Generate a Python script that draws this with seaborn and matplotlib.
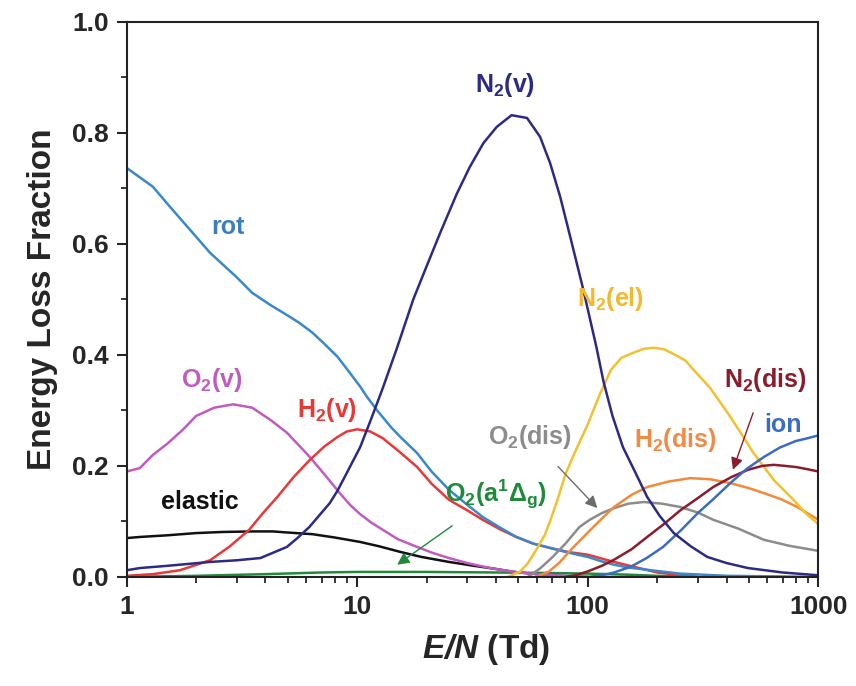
import matplotlib
matplotlib.use("Agg")
import matplotlib.pyplot as plt
import seaborn as sns
import pandas as pd

# values (E/N in Td, energy loss fraction)
rot_x = [1, 1.14, 1.3, 1.54, 2, 2.3, 3, 3.5, 4.2, 4.95, 5.6, 6.4, 7.2, 8.2, 9.2, 10.3, 11, 12.2, 14, 15.4,
         16.5, 18.2, 21, 25, 30, 35, 42, 49, 58, 69, 82, 100, 115, 130, 150, 180, 250, 400, 1000]
rot_y = [0.737, 0.72, 0.703, 0.667, 0.613, 0.584, 0.54, 0.512, 0.49, 0.472, 0.458, 0.44, 0.42, 0.397, 0.37,
         0.343, 0.325, 0.30, 0.27, 0.252, 0.24, 0.223, 0.19, 0.157, 0.13, 0.108, 0.088, 0.072, 0.06, 0.052,
         0.044, 0.036, 0.028, 0.022, 0.017, 0.013, 0.006, 0.002, 0.0]

o2v_x = [1, 1.14, 1.3, 1.5, 1.75, 2, 2.4, 2.9, 3.5, 4.2, 4.95, 5.5, 6.2, 7.2, 8.4, 9.3, 10.3, 11.5, 12.9,
         15, 18.2, 21, 25, 30, 37.7, 50, 70, 100]
o2v_y = [0.19, 0.196, 0.22, 0.24, 0.265, 0.29, 0.305, 0.311, 0.305, 0.283, 0.26, 0.24, 0.217, 0.185, 0.151,
         0.13, 0.113, 0.098, 0.085, 0.068, 0.054, 0.044, 0.034, 0.025, 0.016, 0.008, 0.003, 0.0]

h2v_x = [1, 1.3, 1.7, 2.3, 2.8, 3.4, 3.9, 4.5, 5.3, 6.2, 7.2, 8.2, 9, 10, 11.4, 12.9, 15, 18.2, 21, 25, 30,
         35, 42, 49, 58, 69, 82, 100, 130, 200, 300]
h2v_y = [0.002, 0.005, 0.012, 0.03, 0.055, 0.085, 0.115, 0.144, 0.18, 0.21, 0.235, 0.252, 0.262, 0.266, 0.262,
         0.25, 0.228, 0.198, 0.168, 0.139, 0.12, 0.103, 0.085, 0.072, 0.06, 0.052, 0.045, 0.04, 0.027, 0.008, 0.0]

elastic_x = [1, 1.14, 1.5, 2, 2.6, 3.53, 4.3, 5, 6.4, 8, 10.3, 12.5, 15.4, 19, 25, 31, 39, 48, 60, 75, 100]
elastic_y = [0.07, 0.072, 0.075, 0.079, 0.081, 0.082, 0.082, 0.08, 0.077, 0.071, 0.063, 0.055, 0.045, 0.036,
             0.027, 0.021, 0.015, 0.009, 0.005, 0.002, 0.0]

n2v_x = [1, 1.14, 1.5, 2.3, 3, 3.8, 4.95, 5.5, 6.2, 7.6, 8.2, 9, 10.3, 11.5, 12.9, 14.8, 17.5, 20, 22.9, 27,
         30.8, 35.3, 40.3, 46.7, 54.5, 62.1, 68.6, 75.9, 83.9, 95.7, 109, 117, 128, 142, 160, 181, 205, 236,
         280, 330, 400, 495, 700, 1000]
n2v_y = [0.012, 0.016, 0.02, 0.027, 0.03, 0.034, 0.054, 0.07, 0.09, 0.133, 0.155, 0.187, 0.234, 0.285, 0.34,
         0.41, 0.50, 0.56, 0.62, 0.69, 0.739, 0.782, 0.811, 0.832, 0.827, 0.793, 0.746, 0.685, 0.613,
         0.517, 0.414, 0.352, 0.29, 0.234, 0.19, 0.144, 0.11, 0.079, 0.055, 0.036, 0.025, 0.016, 0.008, 0.003]

n2el_x = [45, 51, 55, 60, 65, 69, 74, 80, 88, 100, 113, 126, 140, 160, 175, 193, 215, 240, 265, 288, 340,
          405, 460, 524, 640, 780, 880, 1000]
n2el_y = [0.0, 0.01, 0.025, 0.05, 0.075, 0.103, 0.14, 0.185, 0.225, 0.275, 0.33, 0.373, 0.395, 0.405, 0.411,
          0.413, 0.41, 0.40, 0.39, 0.373, 0.34, 0.295, 0.26, 0.223, 0.175, 0.139, 0.115, 0.095]

h2dis_x = [60, 68, 75, 85, 100, 115, 130, 155, 181, 225, 278, 340, 415, 500, 580, 690, 810, 1000]
h2dis_y = [0.0, 0.01, 0.025, 0.05, 0.08, 0.105, 0.126, 0.148, 0.162, 0.172, 0.178, 0.176, 0.169, 0.16, 0.151,
           0.14, 0.126, 0.103]

o2dis_x = [55, 62, 70, 80, 92, 102, 115, 130, 150, 175, 210, 252, 300, 350, 450, 580, 750, 1000]
o2dis_y = [0.0, 0.015, 0.035, 0.06, 0.09, 0.103, 0.115, 0.124, 0.132, 0.135, 0.132, 0.126, 0.116, 0.103,
           0.087, 0.067, 0.056, 0.047]

n2dis_x = [80, 90, 100, 115, 130, 155, 181, 215, 252, 300, 350, 420, 495, 570, 640, 720, 800, 900, 1000]
n2dis_y = [0.0, 0.004, 0.01, 0.02, 0.031, 0.05, 0.072, 0.096, 0.12, 0.142, 0.162, 0.18, 0.193, 0.2, 0.202,
           0.2, 0.198, 0.194, 0.19]

ion_x = [100, 115, 130, 153, 180, 212, 255, 300, 350, 415, 490, 580, 680, 800, 900, 1000]
ion_y = [0.0, 0.003, 0.008, 0.018, 0.034, 0.054, 0.085, 0.115, 0.14, 0.169, 0.195, 0.216, 0.233, 0.245,
         0.25, 0.255]

o2a_x = [1, 2, 4, 7, 10, 20, 40, 70, 100, 150, 200, 300]
o2a_y = [0.0, 0.002, 0.005, 0.008, 0.009, 0.009, 0.008, 0.007, 0.006, 0.004, 0.002, 0.0]

series = [
    ("elastic", elastic_x, elastic_y, "#111111"),
    ("O2(a)", o2a_x, o2a_y, "#1f8a3c"),
    ("O2(v)", o2v_x, o2v_y, "#c05cc0"),
    ("H2(v)", h2v_x, h2v_y, "#e83838"),
    ("rot", rot_x, rot_y, "#3a88cc"),
    ("O2(dis)", o2dis_x, o2dis_y, "#8c8c8c"),
    ("H2(dis)", h2dis_x, h2dis_y, "#f28a3c"),
    ("N2(el)", n2el_x, n2el_y, "#f2c12e"),
    ("N2(dis)", n2dis_x, n2dis_y, "#8b1c2c"),
    ("ion", ion_x, ion_y, "#3c6cc0"),
    ("N2(v)", n2v_x, n2v_y, "#2b2b85"),
]

sns.set_style("ticks")
plt.rcParams["font.family"] = ["Liberation Sans", "DejaVu Sans"]
plt.rcParams["font.weight"] = "bold"
plt.rcParams["mathtext.fontset"] = "custom"
plt.rcParams["mathtext.rm"] = "Liberation Sans:bold"
plt.rcParams["mathtext.bf"] = "Liberation Sans:bold"
plt.rcParams["mathtext.it"] = "Liberation Sans:italic:bold"
plt.rcParams["mathtext.bfit"] = "Liberation Sans:italic:bold"

fig = plt.figure(figsize=(8.56, 6.86), dpi=100)
ax = fig.add_axes([0.148, 0.159, 0.808, 0.809])

for name, xs, ys, col in series:
    df = pd.DataFrame({"x": xs, "y": ys})
    sns.lineplot(data=df, x="x", y="y", ax=ax, color=col, linewidth=1.8)

ax.set_xscale("log")
ax.set_xlim(1, 1000)
ax.set_ylim(0, 1.0)
ax.set_yticks([0.0, 0.2, 0.4, 0.6, 0.8, 1.0])
ax.set_yticks([0.1, 0.3, 0.5, 0.7, 0.9], minor=True)
ax.set_xticks([1, 10, 100, 1000])
ax.set_xticklabels(["1", "10", "100", "1000"])
ax.set_yticklabels(["0.0", "0.2", "0.4", "0.6", "0.8", "1.0"])
ax.tick_params(axis="both", which="major", direction="out", length=7, width=1.5, labelsize=19, pad=6)
ax.tick_params(axis="both", which="minor", direction="out", length=4, width=1.3)
for sp in ax.spines.values():
    sp.set_linewidth(1.5)
    sp.set_color("#222222")

ax.set_ylabel("Energy Loss Fraction", fontsize=24, fontweight="bold", labelpad=10)
ax.set_xlabel(r"$\mathbfit{E/N}$ (Td)", fontsize=24, fontweight="bold", labelpad=10)
ax.xaxis.set_label_coords(0.52, -0.1)

fs = 18
ax.text(2.74, 0.63, "rot", color="#3a7ec0", fontsize=fs, ha="center", va="center")
ax.text(43.8, 0.886, r"N$_\mathbf{2}$(v)", color="#2b2b85", fontsize=fs, ha="center", va="center")
ax.text(2.34, 0.355, r"O$_\mathbf{2}$(v)", color="#c05cc0", fontsize=fs, ha="center", va="center")
ax.text(7.4, 0.30, r"H$_\mathbf{2}$(v)", color="#e83838", fontsize=fs, ha="center", va="center")
ax.text(2.07, 0.135, "elastic", color="#111111", fontsize=fs, ha="center", va="center")
ax.text(125, 0.50, r"N$_\mathbf{2}$(el)", color="#f2b82e", fontsize=fs, ha="center", va="center")
ax.text(239, 0.247, r"H$_\mathbf{2}$(dis)", color="#f08a44", fontsize=fs, ha="center", va="center")
ax.text(700, 0.274, "ion", color="#3c6cc0", fontsize=fs, ha="center", va="center")

ax.annotate(r"O$_\mathbf{2}$(a$^\mathbf{1}\Delta_\mathbf{g}$)", xy=(14.9, 0.022), xytext=(40, 0.148),
            color="#1f8a3c", fontsize=fs, ha="center", va="center",
            arrowprops=dict(arrowstyle="-|>", color="#1f8a3c", lw=1.0, shrinkA=14, shrinkB=0))
ax.annotate(r"O$_\mathbf{2}$(dis)", xy=(110, 0.124), xytext=(56.3, 0.252),
            color="#8c8c8c", fontsize=fs, ha="center", va="center",
            arrowprops=dict(arrowstyle="-|>", color="#6c6c6c", lw=1.0, shrinkA=12, shrinkB=0))
ax.annotate(r"N$_\mathbf{2}$(dis)", xy=(426, 0.193), xytext=(586, 0.355),
            color="#8b1c2c", fontsize=fs, ha="center", va="center",
            arrowprops=dict(arrowstyle="-|>", color="#8b1c2c", lw=1.0, shrinkA=12, shrinkB=0))

fig.savefig("out.png", dpi=100)
